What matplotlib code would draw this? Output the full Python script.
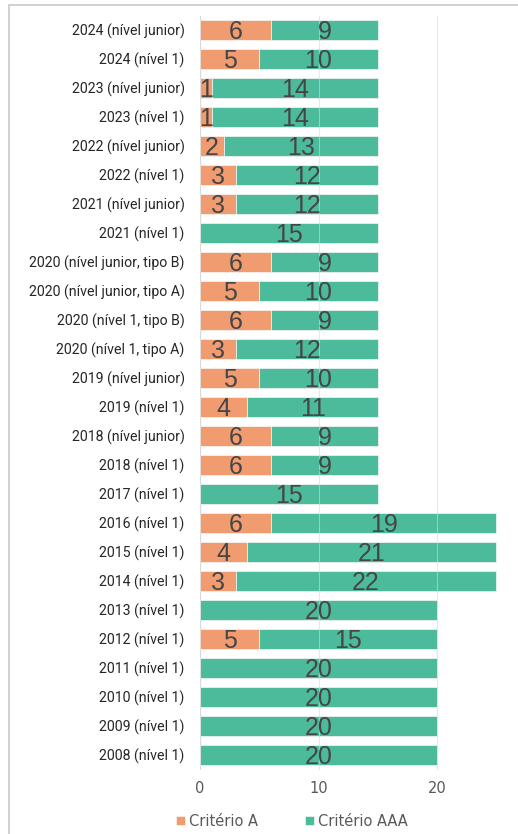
import matplotlib.pyplot as plt
from matplotlib.patches import Rectangle

# Dados (de baixo para cima)
categorias = [
    "2008 (nível 1)", "2009 (nível 1)", "2010 (nível 1)", "2011 (nível 1)",
    "2012 (nível 1)", "2013 (nível 1)", "2014 (nível 1)", "2015 (nível 1)",
    "2016 (nível 1)", "2017 (nível 1)", "2018 (nível 1)", "2018 (nível junior)",
    "2019 (nível 1)", "2019 (nível junior)", "2020 (nível 1, tipo A)",
    "2020 (nível 1, tipo B)", "2020 (nível junior, tipo A)",
    "2020 (nível junior, tipo B)", "2021 (nível 1)", "2021 (nível junior)",
    "2022 (nível 1)", "2022 (nível junior)", "2023 (nível 1)",
    "2023 (nível junior)", "2024 (nível 1)", "2024 (nível junior)",
]
criterio_a = [0, 0, 0, 0, 5, 0, 3, 4, 6, 0, 6, 6, 4, 5, 3, 6, 5, 6, 0, 3, 3, 2, 1, 1, 5, 6]
criterio_aaa = [20, 20, 20, 20, 15, 20, 22, 21, 19, 15, 9, 9, 11, 10, 12, 9, 10, 9, 15, 12, 12, 13, 14, 14, 10, 9]
ticks_x = [0, 10, 20]

COR_A = "#F19C70"
COR_AAA = "#4CBB9B"
COR_TEXTO = "#454545"

fig = plt.figure(figsize=(5.18, 8.34), dpi=100)
ax = fig.add_axes([200 / 518, 1 - 769.5 / 834, 1 - 200 / 518, (769.5 - 15.5) / 834])

y = list(range(len(categorias)))
ax.barh(y, criterio_a, height=0.68, color=COR_A, edgecolor="#f6f6f6", linewidth=0.5,
        label="Critério A", zorder=2)
ax.barh(y, criterio_aaa, left=criterio_a, height=0.68, color=COR_AAA, edgecolor="#f6f6f6",
        linewidth=0.5, label="Critério AAA", zorder=2)

# rótulos dos valores
for i in y:
    a, b = criterio_a[i], criterio_aaa[i]
    if a > 0:
        ax.text(a / 2, i - 0.08, str(a), ha="center", va="center", fontsize=18,
                family="Liberation Sans", color=COR_TEXTO, zorder=3)
    if b > 0:
        ax.text(a + b / 2, i - 0.08, str(b), ha="center", va="center", fontsize=18,
                family="Liberation Sans", color=COR_TEXTO, zorder=3)

ax.set_xlim(0, 318 / 11.85)
ax.set_ylim(-0.5, len(categorias) - 0.5)
ax.set_yticks(y)
ax.set_yticklabels(categorias, fontsize=10.2, family="Roboto", color="#262626")
ax.set_xticks(ticks_x)
ax.set_xticklabels([str(t) for t in ticks_x], fontsize=10.5, color="#595959")
ax.tick_params(axis="both", length=0)
ax.tick_params(axis="y", pad=11)
ax.tick_params(axis="x", pad=8)
ax.xaxis.grid(True, color="#d9d9d9", linewidth=0.8, alpha=0.6, zorder=4)
ax.set_axisbelow(False)
for s in ax.spines.values():
    s.set_visible(False)
ax.axvline(0, color="#d9d9d9", linewidth=0.8, zorder=1)

fig.legend(loc="center", bbox_to_anchor=(292 / 518, 1 - 821 / 834), ncol=2, frameon=False,
           fontsize=10.5, handlelength=0.6, handleheight=0.6, columnspacing=3.2,
           handletextpad=0.3, labelcolor="#595959")

# moldura do gráfico
fig.add_artist(Rectangle((9 / 518, -0.01), 1.0, 1 - 5 / 834 + 0.01, transform=fig.transFigure,
                         fill=False, edgecolor="#c8c8c8", linewidth=1.2))

fig.savefig("out.png", dpi=100)
